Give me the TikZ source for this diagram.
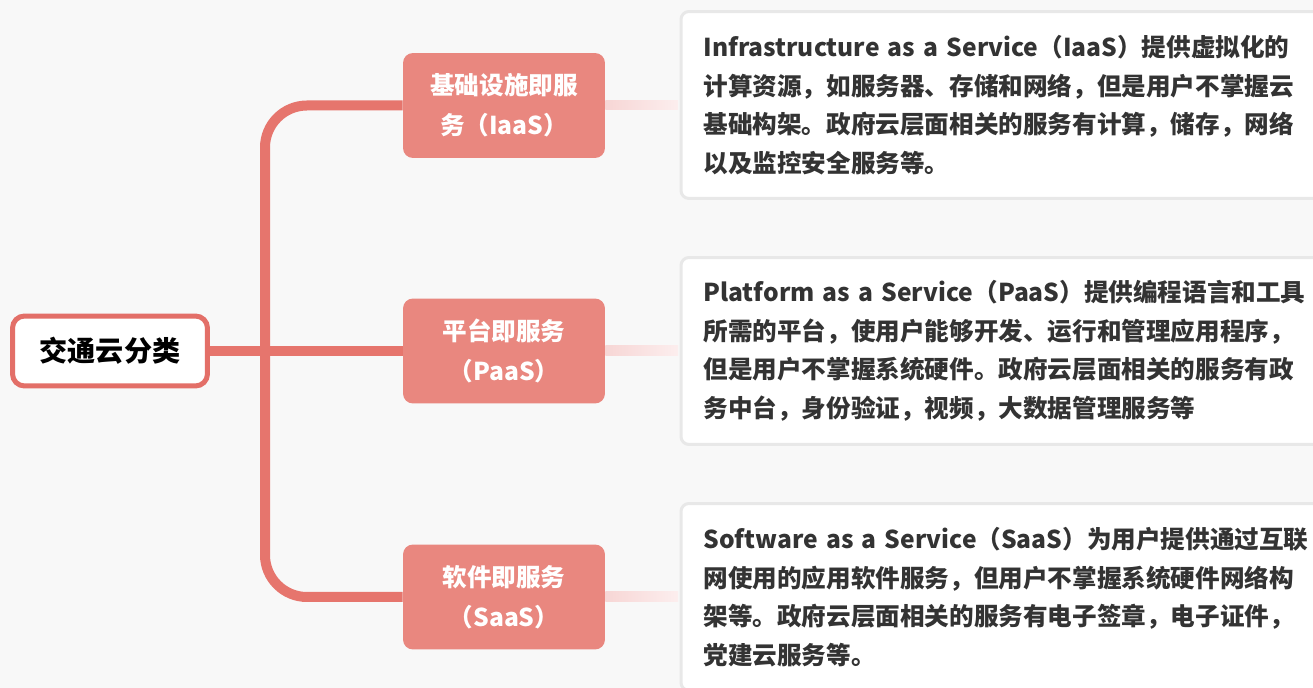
\documentclass[tikz,border=0pt]{standalone}
\usepackage{fontspec}
\setmainfont{Noto Sans CJK SC}
\usepackage{tikz}
\usetikzlibrary{calc,positioning}
\definecolor{bgc}{HTML}{F8F8F8}
\definecolor{rootline}{HTML}{E36F68}
\definecolor{catfill}{HTML}{E9877F}
\definecolor{branchc}{HTML}{E6756D}
\definecolor{fadea}{HTML}{F7D6D5}
\definecolor{fadeb}{HTML}{FCEEEE}
\definecolor{boxline}{HTML}{E8E8E8}
\definecolor{txt}{HTML}{333333}
\tikzset{
  rootbox/.style = {draw=rootline, line width=0.1cm, fill=white, rounded corners=0.24cm,
                    minimum width=3.9cm, minimum height=1.4cm, text=black,
                    font=\fontsize{16}{20}\selectfont\bfseries},
  catbox/.style  = {fill=catfill, rounded corners=0.2cm, minimum width=4.04cm,
                    minimum height=2.1cm, align=center, text=white,
                    font=\fontsize{14}{22.7}\selectfont\bfseries},
  descbox/.style = {draw=boxline, line width=0.06cm, fill=white, rounded corners=0.16cm,
                    anchor=west, minimum height=3.74cm, text width=14cm, inner xsep=0.45cm,
                    align=left, text=txt, font=\fontsize{14}{21.9}\selectfont\bfseries},
  branch/.style  = {draw=branchc, line width=0.2cm, rounded corners=0.84cm},
  fade/.style    = {left color=fadea, right color=fadeb},
}

\begin{document}
\begin{tikzpicture}[x=0.02cm, y=-0.02cm]
\useasboundingbox (0,0) rectangle (1313,688);
\fill[bgc] (0,0) rectangle (1313,688);
\coordinate (t) at (265,351);
\node[catbox] (c1) at (504,105.5) {基础设施即服\\务（IaaS）};
\node[catbox] (c2) at (504,351) {平台即服务\\（PaaS）};
\node[catbox] (c3) at (504,597) {软件即服务\\（SaaS）};
\draw[branch] (t) |- (c1.west);
\draw[branch] (t) |- (c3.west);
\draw[branch] (t) -- (c2.west);
\node[rootbox] (r) at (110,351) {交通云分类};
\draw[branch] (r.east) -- (t);
\node[descbox] (d1) at (679.5,105) {Infrastructure as a Service（IaaS）提供虚拟化的\\计算资源，如服务器、存储和网络，但是用户不掌握云\\基础构架。政府云层面相关的服务有计算，储存，网络\\以及监控安全服务等。};
\node[descbox] (d2) at (679.5,351) {Platform as a Service（PaaS）提供编程语言和工具\\所需的平台，使用户能够开发、运行和管理应用程序，\\但是用户不掌握系统硬件。政府云层面相关的服务有政\\务中台，身份验证，视频，大数据管理服务等};
\node[descbox] (d3) at (679.5,597) {Software as a Service（SaaS）为用户提供通过互联\\网使用的应用软件服务，但用户不掌握系统硬件网络构\\架等。政府云层面相关的服务有电子签章，电子证件，\\党建云服务等。};
\shade[fade] ($(c1.east)+(0,-5)$) rectangle ($(d1.west)+(-1.5,5)$);
\shade[fade] ($(c2.east)+(0,-5)$) rectangle ($(d2.west)+(-1.5,5)$);
\shade[fade] ($(c3.east)+(0,-5)$) rectangle ($(d3.west)+(-1.5,5)$);
\end{tikzpicture}
\end{document}
